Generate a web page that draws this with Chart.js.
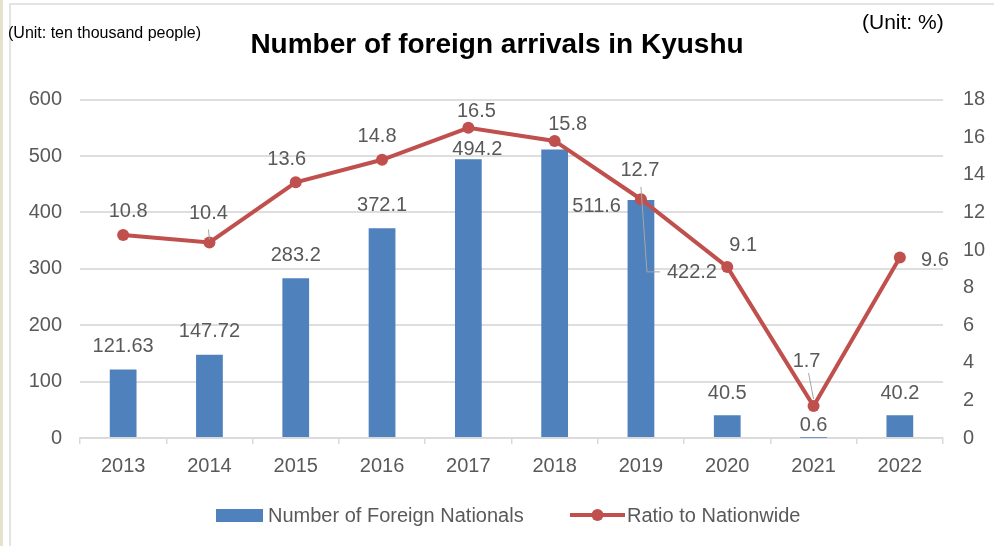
<!DOCTYPE html>
<html>
<head>
<meta charset="utf-8">
<script src="https://cdn.jsdelivr.net/npm/chart.js@4.4.1/dist/chart.umd.min.js"></script>
<style>
body { margin: 0; background: #fff; }
#wrap { position: relative; width: 994px; height: 546px; overflow: hidden; background: #fff; }
#strip { position: absolute; left: 0; top: 0; width: 3px; height: 546px; background: #e6e2cc; }
#frame { position: absolute; left: 9px; top: 3px; width: 1000px; height: 600px; border-left: 2px solid #e4e4e4; border-top: 2px solid #e4e4e4; }
.unit { position: absolute; font-family: "Liberation Sans", Arial, sans-serif; color: #000; white-space: nowrap; }
#myChart { position: absolute; left: 0; top: 0; }
</style>
</head>
<body>
<div id="wrap">
  <div id="strip"></div>
  <div id="frame"></div>
  <canvas id="myChart" width="994" height="546"></canvas>
  <div class="unit" style="left:8px;top:24px;font-size:16px;">(Unit: ten thousand people)</div>
  <div class="unit" style="left:862px;top:10px;font-size:21px;">(Unit: %)</div>
</div>
<script>
var years = ['2013', '2014', '2015', '2016', '2017', '2018', '2019', '2020', '2021', '2022'];
var foreignNationals = [121.63, 147.72, 283.2, 372.1, 494.2, 511.6, 422.2, 40.5, 0.6, 40.2];
var ratioNationwide = [10.8, 10.4, 13.6, 14.8, 16.5, 15.8, 12.7, 9.1, 1.7, 9.6];
var leftTicks = [0, 100, 200, 300, 400, 500, 600];
var rightTicks = [0, 2, 4, 6, 8, 10, 12, 14, 16, 18];

var FONT = '"Liberation Sans", Arial, sans-serif';
var GREY = '#595959';
var BLUE = '#4f81bd';
var RED = '#c0504d';

// label offsets from the bar top / point (px)
var barLabelOffset = [[0, -23], [0, -23], [0, -23], [0, -23], [9, -10], [42, 57], [51, 73], [0, -22], [0, -12], [0, -22]];
var lineLabelOffset = [[5, -23], [-1, -29], [-9, -23], [-5, -23], [8, -16], [13, -16], [-1, -29], [16, -21], [-7, -45], [35, 3]];
// leader lines: [dataset, index, [[dx,dy],...]]
var leaders = [
    [0, 6, [[0, -13], [6, 72], [19, 72]]],
    [1, 1, [[-1, -13], [0, -3]]],
    [1, 8, [[-5, -33], [0, -7]]]
];

var labelPlugin = {
    id: 'labels',
    afterDatasetsDraw: function (chart) {
        var ctx = chart.ctx;
        ctx.save();
        ctx.strokeStyle = '#a6a6a6';
        ctx.lineWidth = 1;
        leaders.forEach(function (l) {
            var el = chart.getDatasetMeta(l[0]).data[l[1]];
            ctx.beginPath();
            l[2].forEach(function (p, i) {
                if (i == 0) ctx.moveTo(el.x + p[0], el.y + p[1]);
                else ctx.lineTo(el.x + p[0], el.y + p[1]);
            });
            ctx.stroke();
        });
        ctx.font = '20px ' + FONT;
        ctx.fillStyle = GREY;
        ctx.textAlign = 'center';
        ctx.textBaseline = 'middle';
        chart.getDatasetMeta(0).data.forEach(function (el, i) {
            ctx.fillText(String(foreignNationals[i]), el.x + barLabelOffset[i][0], el.y + barLabelOffset[i][1]);
        });
        chart.getDatasetMeta(1).data.forEach(function (el, i) {
            ctx.fillText(String(ratioNationwide[i]), el.x + lineLabelOffset[i][0], el.y + lineLabelOffset[i][1]);
        });
        ctx.restore();
    },
    afterDraw: function (chart) {
        // legend
        var ctx = chart.ctx;
        var y = 515;
        ctx.save();
        ctx.fillStyle = BLUE;
        ctx.fillRect(216, y - 6, 47, 13);
        ctx.strokeStyle = RED;
        ctx.lineWidth = 4;
        ctx.beginPath();
        ctx.moveTo(570, y);
        ctx.lineTo(625, y);
        ctx.stroke();
        ctx.fillStyle = RED;
        ctx.beginPath();
        ctx.arc(597.5, y, 6, 0, Math.PI * 2);
        ctx.fill();
        ctx.font = '20px ' + FONT;
        ctx.fillStyle = GREY;
        ctx.textBaseline = 'middle';
        ctx.fillText(chart.data.datasets[0].label, 268, y + 1);
        ctx.fillText(chart.data.datasets[1].label, 627, y + 1);
        ctx.restore();
    }
};

var ctx = document.getElementById('myChart').getContext('2d');
new Chart(ctx, {
    type: 'bar',
    data: {
        labels: years,
        datasets: [{
            label: 'Number of Foreign Nationals',
            data: foreignNationals,
            backgroundColor: BLUE,
            barPercentage: 0.31,
            categoryPercentage: 1,
            yAxisID: 'y',
            order: 2
        }, {
            type: 'line',
            label: 'Ratio to Nationwide',
            data: ratioNationwide,
            borderColor: RED,
            backgroundColor: RED,
            borderWidth: 4,
            pointRadius: 6,
            pointBackgroundColor: RED,
            pointBorderWidth: 0,
            tension: 0,
            yAxisID: 'y1',
            order: 1
        }]
    },
    options: {
        responsive: false,
        animation: false,
        layout: { padding: { left: 0, right: 0, top: 0, bottom: 58 } },
        plugins: {
            legend: { display: false },
            tooltip: { enabled: false },
            title: {
                display: true,
                text: 'Number of foreign arrivals in Kyushu',
                color: '#000',
                font: { family: FONT, size: 28, weight: 'bold' },
                padding: { top: 28, bottom: 38 }
            }
        },
        scales: {
            x: {
                offset: true,
                grid: { offset: true, drawOnChartArea: false, tickLength: 6, color: '#d9d9d9', lineWidth: 1.5 },
                border: { color: '#d9d9d9', width: 1.5 },
                ticks: { color: GREY, font: { family: FONT, size: 20 }, padding: 10 }
            },
            y: {
                position: 'left',
                min: 0,
                max: 600,
                afterBuildTicks: function (s) { s.ticks = leftTicks.map(function (v) { return { value: v }; }); },
                afterFit: function (s) { s.width = 80; },
                grid: { color: '#dedede', lineWidth: 2, drawTicks: false },
                border: { display: false },
                ticks: { color: GREY, font: { family: FONT, size: 20 }, padding: 18 }
            },
            y1: {
                position: 'right',
                min: 0,
                max: 18,
                afterBuildTicks: function (s) { s.ticks = rightTicks.map(function (v) { return { value: v }; }); },
                afterFit: function (s) { s.width = 51; },
                grid: { drawOnChartArea: false, drawTicks: false },
                border: { display: false },
                ticks: { color: GREY, font: { family: FONT, size: 20 }, padding: 20 }
            }
        }
    },
    plugins: [labelPlugin]
});
</script>
</body>
</html>
